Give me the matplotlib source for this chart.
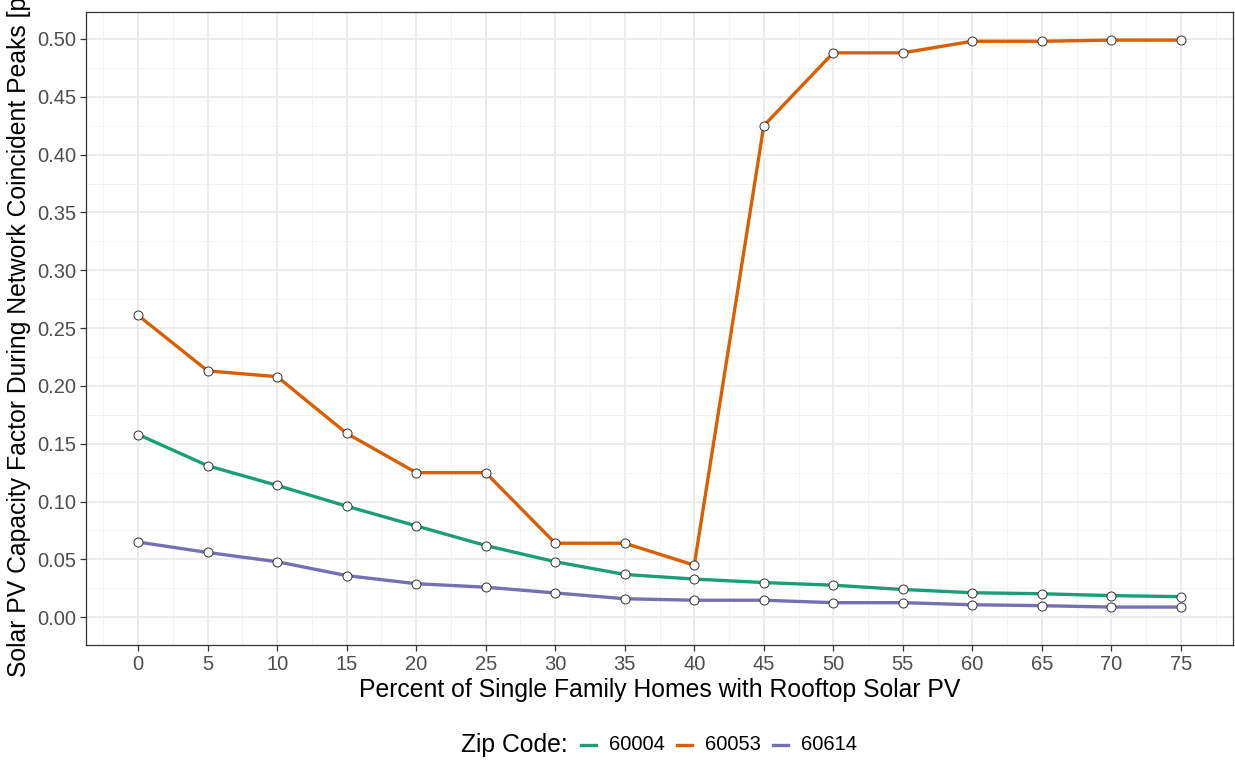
import numpy as np
import matplotlib
matplotlib.use("Agg")
import matplotlib.pyplot as plt
from matplotlib.ticker import MultipleLocator, FormatStrFormatter
from matplotlib.lines import Line2D

plt.rcParams['font.family'] = ['Liberation Sans', 'DejaVu Sans']

# Data
pct = [0, 5, 10, 15, 20, 25, 30, 35, 40, 45, 50, 55, 60, 65, 70, 75]
zip_codes = ["60004", "60053", "60614"]
cf_60004 = [0.158, 0.131, 0.114, 0.096, 0.079, 0.062, 0.048, 0.037, 0.033,
            0.030, 0.0277, 0.024, 0.0212, 0.0203, 0.0187, 0.0178]
cf_60053 = [0.261, 0.213, 0.208, 0.159, 0.125, 0.125, 0.064, 0.064, 0.045,
            0.425, 0.488, 0.488, 0.498, 0.498, 0.499, 0.499]
cf_60614 = [0.065, 0.056, 0.048, 0.036, 0.029, 0.026, 0.021, 0.016, 0.0147,
            0.0147, 0.0126, 0.0126, 0.0108, 0.0100, 0.0088, 0.0088]
colors = ["#1B9E77", "#D95F02", "#7570B3"]

W, H = 1235, 761
fig = plt.figure(figsize=(W / 100, H / 100), dpi=100)
ax = fig.add_axes([86 / W, 1 - 645 / H, (1233 - 86) / W, (645 - 12) / H])

for vals, col in zip([cf_60004, cf_60053, cf_60614], colors):
    ax.plot(pct, vals, color=col, lw=2.4, zorder=3)
    ax.plot(pct, vals, ls="none", marker="o", ms=6.5, mfc="white",
            mec="#333333", mew=0.7, zorder=4)

ax.set_xlim(-3.75, 78.75)
ax.set_ylim(-0.024, 0.5233)
ax.xaxis.set_major_locator(MultipleLocator(5))
ax.xaxis.set_minor_locator(MultipleLocator(2.5))
ax.yaxis.set_major_locator(MultipleLocator(0.05))
ax.yaxis.set_minor_locator(MultipleLocator(0.025))
ax.yaxis.set_major_formatter(FormatStrFormatter("%.2f"))

ax.grid(which="major", color="#EBEBEB", lw=1.3, zorder=0)
ax.grid(which="minor", color="#F2F2F2", lw=0.7, zorder=0)
ax.set_axisbelow(True)
for s in ax.spines.values():
    s.set_color("#333333")
    s.set_linewidth(0.9)

ax.tick_params(which="major", length=4, width=0.9, color="#333333",
               labelsize=14.5, labelcolor="#4D4D4D", pad=3)
ax.tick_params(which="minor", length=0)

ax.set_xlabel("Percent of Single Family Homes with Rooftop Solar PV",
              fontsize=17.8, labelpad=3)
# the reference's y title runs past the top edge, as here
ax.set_ylabel("Solar PV Capacity Factor During Network Coincident Peaks [p.u.]",
              fontsize=17.8)
ax.yaxis.set_label_coords(-55 / (1233 - 86), 0.513)

# legend at the bottom, title to the left of the keys
ly = 1 - 745 / H
fig.text(461 / W, ly, "Zip Code:", fontsize=17.8, va="center", ha="left")
key_x = [581, 677, 773]
for kx, col, name in zip(key_x, colors, zip_codes):
    fig.add_artist(Line2D([kx / W, (kx + 15) / W], [ly, ly], color=col, lw=2.4))
    fig.text((kx + 28) / W, ly, name, fontsize=14.5, va="center", ha="left")

fig.savefig("out.png", dpi=100)
